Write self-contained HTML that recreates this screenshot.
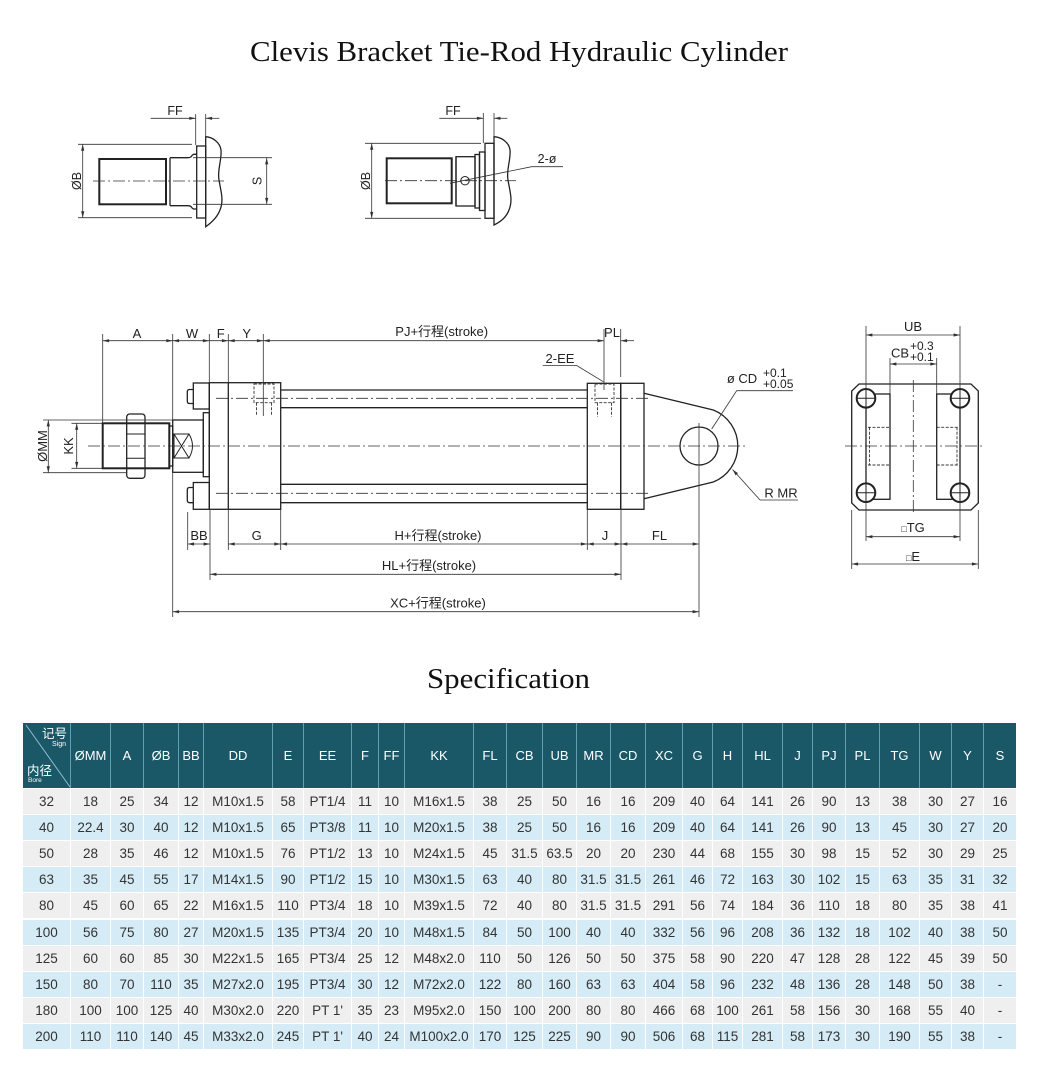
<!DOCTYPE html>
<html><head><meta charset="utf-8">
<style>
html,body{margin:0;padding:0;background:#fff;}
body{width:1039px;height:1069px;position:relative;overflow:hidden;font-family:"Liberation Sans","Noto Sans CJK SC",sans-serif;}
svg.d{position:absolute;left:0;top:0;}
.r{position:absolute;left:23px;width:993px;height:26px;display:flex;}
.r span{flex:none;display:block;text-align:center;line-height:26px;height:26px;box-sizing:border-box;border-right:1px solid #fff;border-top:1px solid #fff;font-size:13.5px;color:#333;white-space:nowrap;}
.g{background:#efefef;}
.b{background:#d5ecf7;}
.h{top:723px;height:65px;background:#1a5868;}
.h span{height:65px;line-height:65px;color:#fff;font-size:13px;border-right:1px solid #5f9fb2;border-top:none;}
.r span:nth-child(1){width:48px}.r span:nth-child(2){width:40px}.r span:nth-child(3){width:33px}
.r span:nth-child(4){width:35px}.r span:nth-child(5){width:25px}.r span:nth-child(6){width:69px}
.r span:nth-child(7){width:31px}.r span:nth-child(8){width:48px}.r span:nth-child(9){width:27px}
.r span:nth-child(10){width:26px}.r span:nth-child(11){width:69px}.r span:nth-child(12){width:33px}
.r span:nth-child(13){width:36px}.r span:nth-child(14){width:34px}.r span:nth-child(15){width:34px}
.r span:nth-child(16){width:35px}.r span:nth-child(17){width:37px}.r span:nth-child(18){width:30px}
.r span:nth-child(19){width:30px}.r span:nth-child(20){width:40px}.r span:nth-child(21){width:30px}
.r span:nth-child(22){width:33px}.r span:nth-child(23){width:34px}.r span:nth-child(24){width:40px}
.r span:nth-child(25){width:32px}.r span:nth-child(26){width:32px}.r span:nth-child(27){width:32px;border-right:none}
.h span.c{position:relative;}
.c i{position:absolute;font-style:normal;color:#fff;line-height:1;}
</style></head>
<body>
<svg class="d" width="1039" height="1069" viewBox="0 0 1039 1069" xmlns="http://www.w3.org/2000/svg">
<defs>
<marker id="ar" viewBox="0 0 8 4" refX="8" refY="2" markerWidth="7" markerHeight="3.2" orient="auto-start-reverse" markerUnits="userSpaceOnUse"><path d="M0,0L8,2L0,4Z" fill="#333"/></marker>
</defs>

<text x="250" y="61" font-family="Liberation Serif, serif" font-size="28" fill="#111" textLength="538" lengthAdjust="spacingAndGlyphs">Clevis Bracket Tie-Rod Hydraulic Cylinder</text>
<text x="427" y="688" font-family="Liberation Serif, serif" font-size="28" fill="#111" textLength="163" lengthAdjust="spacingAndGlyphs">Specification</text>

<!-- ============ Upper-left detail ============ -->
<g stroke="#222" fill="none" stroke-width="1.3">
  <rect x="99.3" y="159" width="66.7" height="45.3" stroke-width="2"/>
  <path d="M166,160.5V202.8M170,157.7V205.7"/>
  <path d="M170,157.7H188Q191,157.7 192,155.5L193.5,154.3H196.7M170,205.7H188Q191,205.7 192,207.9L193.5,209H196.7"/>
  <rect x="196.7" y="146" width="9" height="72"/>
  <path d="M205.7,136.7C212,137 220,142 221,150C222,160 217,170 219,180C221,192 224,200 220,210C217,218 211,223 205.7,226.7Z"/>
</g>
<g stroke="#333" fill="none" stroke-width="0.8">
  <path d="M93,181H224" stroke-dasharray="12 3 2 3"/>
  <path d="M78,144.3H192M78,217.7H192M193,157.7H272M193,204.3H272"/>
  <path d="M195.7,114V145M205.7,114V137"/>
  <line x1="82.7" y1="144.3" x2="82.7" y2="217.7" marker-start="url(#ar)" marker-end="url(#ar)"/>
  <line x1="266.7" y1="158" x2="266.7" y2="204.3" marker-start="url(#ar)" marker-end="url(#ar)"/>
  <line x1="150.7" y1="118.3" x2="195.7" y2="118.3" marker-end="url(#ar)"/>
  <line x1="219.3" y1="118.3" x2="205.7" y2="118.3" marker-end="url(#ar)"/>
</g>
<g font-size="12.5" fill="#222">
  <text x="175" y="115" text-anchor="middle">FF</text>
  <text transform="translate(81,181) rotate(-90)" text-anchor="middle">ØB</text>
  <text transform="translate(261.5,181) rotate(-90)" text-anchor="middle">S</text>
</g>

<!-- ============ Upper-right detail ============ -->
<g stroke="#222" fill="none" stroke-width="1.3">
  <rect x="386.7" y="158.3" width="65" height="45" stroke-width="2"/>
  <path d="M451.7,160V202M456,156.7V206"/>
  <rect x="456" y="156.7" width="19" height="49.3"/>
  <rect x="475" y="154.5" width="4.5" height="53.5"/>
  <rect x="479.5" y="152" width="5.5" height="58.5"/>
  <rect x="485" y="143.3" width="9" height="75"/>
  <path d="M494,136.7C501,137 509,142 510,150C511,160 506,170 508,180C510,192 513,200 509,210C506,218 500,222 494,225Z"/>
  <circle cx="465" cy="180.7" r="4.2" stroke-width="1"/>
</g>
<g stroke="#333" fill="none" stroke-width="0.8">
  <path d="M385,180.7H516" stroke-dasharray="12 3 2 3"/>
  <path d="M365,143.3H481M365,218.3H481M483.3,113V143M494,113V137"/>
  <line x1="371.7" y1="143.3" x2="371.7" y2="218.3" marker-start="url(#ar)" marker-end="url(#ar)"/>
  <line x1="439.3" y1="118.3" x2="483.3" y2="118.3" marker-end="url(#ar)"/>
  <line x1="507.3" y1="118.3" x2="494" y2="118.3" marker-end="url(#ar)"/>
  <path d="M450,183.3L531.7,166.7H563"/>
</g>
<g font-size="12.5" fill="#222">
  <text x="453" y="115" text-anchor="middle">FF</text>
  <text transform="translate(370,181) rotate(-90)" text-anchor="middle">ØB</text>
  <text x="547" y="163" text-anchor="middle">2-ø</text>
</g>

<!-- ============ Main side view ============ -->
<g stroke="#222" fill="none" stroke-width="1.3">
  <!-- thread -->
  <rect x="102.7" y="423.3" width="66.6" height="45" stroke-width="2"/>
  <rect x="169.3" y="426" width="3.4" height="40"/>
  <!-- jam nut -->
  <rect x="126.7" y="414" width="18.3" height="64.3" rx="3"/>
  <path d="M126.7,423.3H145M126.7,434H145M126.7,458.3H145M126.7,468.3H145" stroke-width="1"/>
  <!-- rod piece -->
  <rect x="172.7" y="420" width="30.6" height="52.3"/>
  <path d="M174,434H189Q196,446 189,458H174Z" stroke-width="1"/>
  <path d="M174,434L189,458M174,458L189,434" stroke-width="1"/>
  <!-- plate -->
  <rect x="203.3" y="412.7" width="6" height="64"/>
  <!-- nuts -->
  <rect x="193.3" y="383" width="16" height="26"/>
  <path d="M193.3,389.5H189.5Q187.3,389.5 187.3,392V401Q187.3,403.5 189.5,403.5H193.3"/>
  <rect x="193.3" y="482.5" width="16" height="26.8"/>
  <path d="M193.3,487.5H189.5Q187.3,487.5 187.3,490V500Q187.3,502.7 189.5,502.7H193.3"/>
  <!-- head cap -->
  <rect x="209.3" y="382.7" width="71.4" height="126.6"/>
  <line x1="228.3" y1="382.7" x2="228.3" y2="509.3"/>
  <!-- tie rods -->
  <path d="M280.7,390H587.3M280.7,407.7H587.3M280.7,484.3H587.3M280.7,502.7H587.3"/>
  <!-- rear cap -->
  <rect x="587.3" y="383.3" width="33.4" height="126"/>
  <rect x="620.7" y="383.3" width="23.3" height="126"/>
  <!-- clevis -->
  <path d="M644,393.3L713.3,410A38.7,38.7 0 0 1 713.3,482L644,498.7"/>
  <circle cx="699" cy="446" r="19"/>
</g>
<!-- ports (dashed) -->
<g stroke="#333" fill="none" stroke-width="0.9" stroke-dasharray="3 1.5">
  <rect x="254" y="384" width="20" height="18.7"/>
  <path d="M256.5,402.7V416M271.5,402.7V416"/>
  <rect x="595" y="384" width="19" height="18.7"/>
  <path d="M597.5,402.7V416.7M611.5,402.7V416.7"/>
</g>
<!-- center lines -->
<g stroke="#333" fill="none" stroke-width="0.8" stroke-dasharray="12 3 2 3">
  <path d="M88,446H748"/>
  <path d="M216,398.3H650M216,493.3H650"/>
</g>
<!-- dimension/extension lines -->
<g stroke="#333" fill="none" stroke-width="0.8">
  <path d="M102.7,334V423M172.7,334V420M209.3,334V382.7M228.3,334V382.7M263.3,334V416M604,329V390M620.7,329V377"/>
  <path d="M172.7,472.3V617M187.7,512V550M210,509.3V580M228.3,509.3V550M280.7,509.3V550M587.3,509.3V550M621,509.3V580M699,423V617"/>
  <path d="M43,420H172M43,472.7H126M71.5,423.3H102M71.5,468.3H102"/>
  <line x1="48.3" y1="420" x2="48.3" y2="472.7" marker-start="url(#ar)" marker-end="url(#ar)"/>
  <line x1="76.7" y1="423.3" x2="76.7" y2="468.3" marker-start="url(#ar)" marker-end="url(#ar)"/>
  <line x1="102.7" y1="340.7" x2="172.7" y2="340.7" marker-start="url(#ar)" marker-end="url(#ar)"/>
  <line x1="172.7" y1="340.7" x2="209.3" y2="340.7" marker-start="url(#ar)" marker-end="url(#ar)"/>
  <line x1="209.3" y1="340.7" x2="228.3" y2="340.7" marker-end="url(#ar)"/>
  <line x1="228.3" y1="340.7" x2="263.3" y2="340.7" marker-start="url(#ar)" marker-end="url(#ar)"/>
  <line x1="263.3" y1="340.7" x2="604" y2="340.7" marker-start="url(#ar)" marker-end="url(#ar)"/>
  <line x1="634" y1="340.7" x2="620.7" y2="340.7" marker-end="url(#ar)"/>
  <line x1="187.7" y1="544" x2="210" y2="544" marker-start="url(#ar)" marker-end="url(#ar)"/>
  <line x1="228.3" y1="544" x2="280.7" y2="544" marker-start="url(#ar)" marker-end="url(#ar)"/>
  <line x1="280.7" y1="544" x2="587.3" y2="544" marker-start="url(#ar)" marker-end="url(#ar)"/>
  <line x1="587.3" y1="544" x2="621" y2="544" marker-start="url(#ar)" marker-end="url(#ar)"/>
  <line x1="621" y1="544" x2="699" y2="544" marker-start="url(#ar)" marker-end="url(#ar)"/>
  <line x1="210" y1="574.3" x2="621" y2="574.3" marker-start="url(#ar)" marker-end="url(#ar)"/>
  <line x1="172.7" y1="611.7" x2="699" y2="611.7" marker-start="url(#ar)" marker-end="url(#ar)"/>
  <!-- leaders -->
  <path d="M542.7,365.5H576.7L603.3,381.7"/>
  <path d="M793,390.7H736.7L711.7,429"/>
  <path d="M798,500H760"/>
  <line x1="760" y1="500" x2="732.5" y2="469.5" marker-end="url(#ar)"/>
</g>
<g font-size="13" fill="#222">
  <text x="137" y="338" text-anchor="middle">A</text>
  <text x="192" y="338" text-anchor="middle">W</text>
  <text x="220.7" y="338" text-anchor="middle">F</text>
  <text x="246.7" y="338" text-anchor="middle">Y</text>
  <text x="441.7" y="336" text-anchor="middle">PJ+行程(stroke)</text>
  <text x="612" y="337" text-anchor="middle">PL</text>
  <text x="560" y="363" text-anchor="middle">2-EE</text>
  <text x="742" y="383" text-anchor="middle">ø CD</text>
  <text x="763" y="377" font-size="12">+0.1</text>
  <text x="763" y="388" font-size="12">+0.05</text>
  <text x="781" y="497.5" text-anchor="middle">R MR</text>
  <text transform="translate(47,446) rotate(-90)" text-anchor="middle">ØMM</text>
  <text transform="translate(73,446) rotate(-90)" text-anchor="middle">KK</text>
  <text x="199" y="540" text-anchor="middle">BB</text>
  <text x="256.7" y="540" text-anchor="middle">G</text>
  <text x="438" y="540" text-anchor="middle">H+行程(stroke)</text>
  <text x="605" y="540" text-anchor="middle">J</text>
  <text x="659.5" y="540" text-anchor="middle">FL</text>
  <text x="429" y="570" text-anchor="middle">HL+行程(stroke)</text>
  <text x="438" y="607.5" text-anchor="middle">XC+行程(stroke)</text>
</g>

<!-- ============ End view ============ -->
<g stroke="#222" fill="none" stroke-width="1.3">
  <path d="M859,384H971L978.3,391V503L971,510H859L851.7,503V391Z"/>
  <rect x="866" y="394" width="24" height="105.3"/>
  <rect x="936.7" y="394" width="23.3" height="105.3"/>
  <g stroke-width="2" fill="#fff">
    <circle cx="866" cy="398.3" r="9.3"/>
    <circle cx="960" cy="398.3" r="9.3"/>
    <circle cx="866" cy="492.7" r="9.3"/>
    <circle cx="960" cy="492.7" r="9.3"/>
  </g>
  <path d="M856.7,398.3H875.3M866,389V407.6M950.7,398.3H969.3M960,389V407.6M856.7,492.7H875.3M866,483.4V502M950.7,492.7H969.3M960,483.4V502" stroke-width="1"/>
</g>
<g stroke="#333" fill="none" stroke-width="0.9" stroke-dasharray="3 1.5">
  <path d="M868,427.3H890M868,465H890M869.5,427.3V465M936.7,427.3H958M936.7,465H958M957,427.3V465"/>
</g>
<g stroke="#333" fill="none" stroke-width="0.8">
  <path d="M913.3,380V514M845,446H982" stroke-dasharray="12 3 2 3"/>
  <path d="M866,326V389M960,326V389M890,358V394M936.7,358V394"/>
  <path d="M866,502V541M960,502V541M851.7,510V569M978.3,510V569"/>
  <line x1="866" y1="335" x2="960" y2="335" marker-start="url(#ar)" marker-end="url(#ar)"/>
  <line x1="890" y1="364" x2="936.7" y2="364" marker-start="url(#ar)" marker-end="url(#ar)"/>
  <line x1="866" y1="536.7" x2="960" y2="536.7" marker-start="url(#ar)" marker-end="url(#ar)"/>
  <line x1="851.7" y1="564" x2="978.3" y2="564" marker-start="url(#ar)" marker-end="url(#ar)"/>
</g>
<g font-size="13" fill="#222">
  <text x="913" y="331" text-anchor="middle">UB</text>
  <text x="891" y="357.5">CB</text>
  <text x="910" y="350" font-size="12">+0.3</text>
  <text x="910" y="361" font-size="12">+0.1</text>
  <text x="913" y="532" text-anchor="middle"><tspan font-size="9">□</tspan>TG</text>
  <text x="913" y="561" text-anchor="middle"><tspan font-size="9">□</tspan>E</text>
</g>
</svg>

<!-- ============ Table ============ -->
<div class="r h"><span class="c"><svg width="48" height="65" style="position:absolute;left:0;top:0"><line x1="3" y1="2" x2="47" y2="64" stroke="#8fbccc" stroke-width="1"/></svg><i style="left:19px;top:5px;font-size:12.5px">记号</i><i style="left:29px;top:18px;font-size:7px">Sign</i><i style="left:4px;top:42px;font-size:12.5px">内径</i><i style="left:5px;top:55px;font-size:6.5px">Bore</i></span><span>ØMM</span><span>A</span><span>ØB</span><span>BB</span><span>DD</span><span>E</span><span>EE</span><span>F</span><span>FF</span><span>KK</span><span>FL</span><span>CB</span><span>UB</span><span>MR</span><span>CD</span><span>XC</span><span>G</span><span>H</span><span>HL</span><span>J</span><span>PJ</span><span>PL</span><span>TG</span><span>W</span><span>Y</span><span>S</span></div>

<div class="r g" style="top:788px"><span>32</span><span>18</span><span>25</span><span>34</span><span>12</span><span>M10x1.5</span><span>58</span><span>PT1/4</span><span>11</span><span>10</span><span>M16x1.5</span><span>38</span><span>25</span><span>50</span><span>16</span><span>16</span><span>209</span><span>40</span><span>64</span><span>141</span><span>26</span><span>90</span><span>13</span><span>38</span><span>30</span><span>27</span><span>16</span></div>
<div class="r b" style="top:814.1px"><span>40</span><span>22.4</span><span>30</span><span>40</span><span>12</span><span>M10x1.5</span><span>65</span><span>PT3/8</span><span>11</span><span>10</span><span>M20x1.5</span><span>38</span><span>25</span><span>50</span><span>16</span><span>16</span><span>209</span><span>40</span><span>64</span><span>141</span><span>26</span><span>90</span><span>13</span><span>45</span><span>30</span><span>27</span><span>20</span></div>
<div class="r g" style="top:840.2px"><span>50</span><span>28</span><span>35</span><span>46</span><span>12</span><span>M10x1.5</span><span>76</span><span>PT1/2</span><span>13</span><span>10</span><span>M24x1.5</span><span>45</span><span>31.5</span><span>63.5</span><span>20</span><span>20</span><span>230</span><span>44</span><span>68</span><span>155</span><span>30</span><span>98</span><span>15</span><span>52</span><span>30</span><span>29</span><span>25</span></div>
<div class="r b" style="top:866.3px"><span>63</span><span>35</span><span>45</span><span>55</span><span>17</span><span>M14x1.5</span><span>90</span><span>PT1/2</span><span>15</span><span>10</span><span>M30x1.5</span><span>63</span><span>40</span><span>80</span><span>31.5</span><span>31.5</span><span>261</span><span>46</span><span>72</span><span>163</span><span>30</span><span>102</span><span>15</span><span>63</span><span>35</span><span>31</span><span>32</span></div>
<div class="r g" style="top:892.4px"><span>80</span><span>45</span><span>60</span><span>65</span><span>22</span><span>M16x1.5</span><span>110</span><span>PT3/4</span><span>18</span><span>10</span><span>M39x1.5</span><span>72</span><span>40</span><span>80</span><span>31.5</span><span>31.5</span><span>291</span><span>56</span><span>74</span><span>184</span><span>36</span><span>110</span><span>18</span><span>80</span><span>35</span><span>38</span><span>41</span></div>
<div class="r b" style="top:918.5px"><span>100</span><span>56</span><span>75</span><span>80</span><span>27</span><span>M20x1.5</span><span>135</span><span>PT3/4</span><span>20</span><span>10</span><span>M48x1.5</span><span>84</span><span>50</span><span>100</span><span>40</span><span>40</span><span>332</span><span>56</span><span>96</span><span>208</span><span>36</span><span>132</span><span>18</span><span>102</span><span>40</span><span>38</span><span>50</span></div>
<div class="r g" style="top:944.6px"><span>125</span><span>60</span><span>60</span><span>85</span><span>30</span><span>M22x1.5</span><span>165</span><span>PT3/4</span><span>25</span><span>12</span><span>M48x2.0</span><span>110</span><span>50</span><span>126</span><span>50</span><span>50</span><span>375</span><span>58</span><span>90</span><span>220</span><span>47</span><span>128</span><span>28</span><span>122</span><span>45</span><span>39</span><span>50</span></div>
<div class="r b" style="top:970.7px"><span>150</span><span>80</span><span>70</span><span>110</span><span>35</span><span>M27x2.0</span><span>195</span><span>PT3/4</span><span>30</span><span>12</span><span>M72x2.0</span><span>122</span><span>80</span><span>160</span><span>63</span><span>63</span><span>404</span><span>58</span><span>96</span><span>232</span><span>48</span><span>136</span><span>28</span><span>148</span><span>50</span><span>38</span><span>-</span></div>
<div class="r g" style="top:996.8px"><span>180</span><span>100</span><span>100</span><span>125</span><span>40</span><span>M30x2.0</span><span>220</span><span>PT 1'</span><span>35</span><span>23</span><span>M95x2.0</span><span>150</span><span>100</span><span>200</span><span>80</span><span>80</span><span>466</span><span>68</span><span>100</span><span>261</span><span>58</span><span>156</span><span>30</span><span>168</span><span>55</span><span>40</span><span>-</span></div>
<div class="r b" style="top:1022.9px"><span>200</span><span>110</span><span>110</span><span>140</span><span>45</span><span>M33x2.0</span><span>245</span><span>PT 1'</span><span>40</span><span>24</span><span>M100x2.0</span><span>170</span><span>125</span><span>225</span><span>90</span><span>90</span><span>506</span><span>68</span><span>115</span><span>281</span><span>58</span><span>173</span><span>30</span><span>190</span><span>55</span><span>38</span><span>-</span></div>
</body></html>
